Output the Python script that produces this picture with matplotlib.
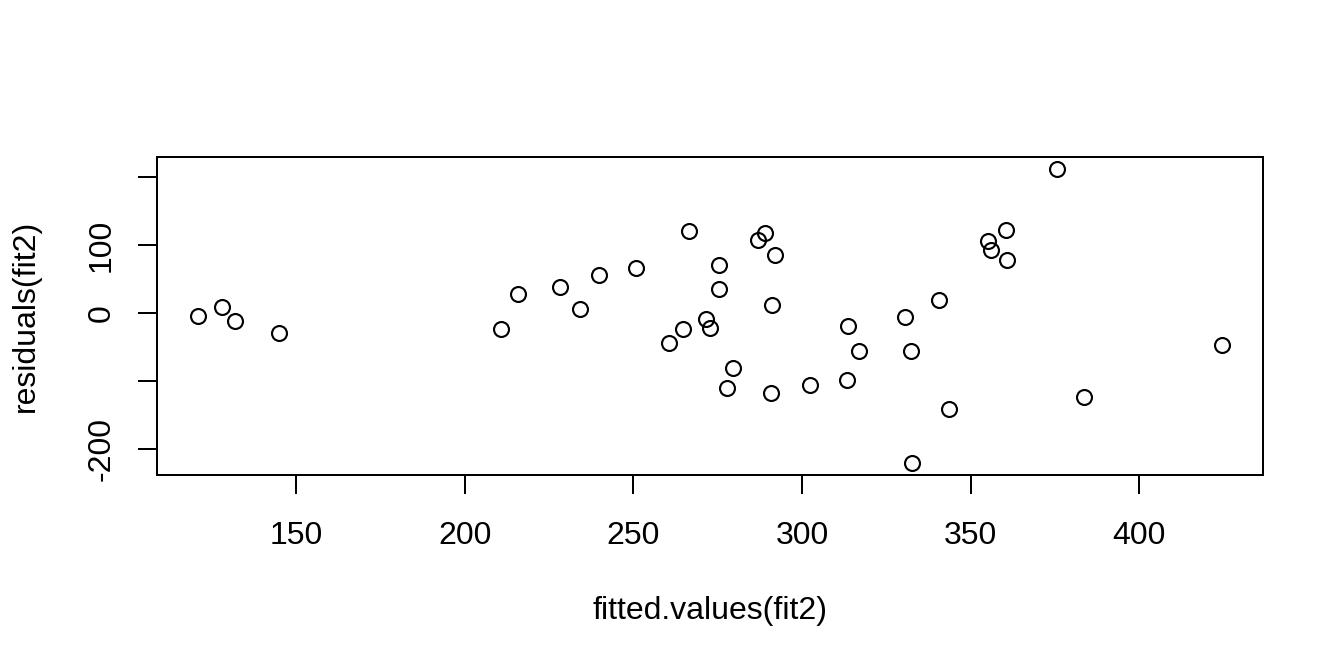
import matplotlib.pyplot as plt

plt.rcParams['font.family'] = ['Liberation Sans', 'DejaVu Sans']

# fitted values and residuals of fit2
fitted = [120.9, 128.0, 131.8, 144.9, 210.6, 215.8, 228.2, 234.1, 239.7, 250.7,
          260.5, 266.4, 264.7, 271.4, 272.6, 275.3, 275.3, 279.5, 277.7, 286.8,
          288.9, 291.9, 291.2, 290.9, 302.4, 313.3, 313.5, 316.8, 330.4, 332.4,
          332.6, 340.6, 343.7, 355.0, 355.9, 360.5, 360.7, 375.7, 383.6, 424.5]
resid = [-5.0, 8.2, -11.8, -29.4, -23.5, 28.4, 38.7, 4.9, 56.3, 66.6,
         -44.1, 120.0, -23.5, -8.8, -23.1, 71.0, 35.3, -81.9, -111.3, 107.8,
         117.6, 85.7, 12.2, -117.6, -106.9, -99.1, -18.7, -56.5, -5.9, -56.5,
         -221.6, 19.1, -141.2, 105.9, 92.1, 122.5, 77.9, 212.2, -124.6, -47.6]

x_ticks = [150, 200, 250, 300, 350, 400]
y_ticks = [-200, -100, 0, 100, 200]
y_tick_labels = ['-200', '', '0', '100', '']

fig = plt.figure(figsize=(7, 3.5), dpi=192)
ax = fig.add_axes([157 / 1344, 1 - 475 / 672, (1263 - 157) / 1344, (475 - 157) / 672])

ax.plot(fitted, resid, 'o', mfc='none', mec='black', ms=5.6, mew=0.8)
ax.margins(0.04)

ax.set_xticks(x_ticks)
ax.set_yticks(y_ticks)
ax.set_yticklabels(y_tick_labels)
ax.tick_params(direction='out', length=7.2, width=0.75, labelsize=12, pad=10)
ax.tick_params(axis='y', labelrotation=90, pad=8)
for lbl in ax.get_yticklabels():
    lbl.set_va('center')

for s in ax.spines.values():
    s.set_linewidth(0.75)

ax.set_xlabel('fitted.values(fit2)', fontsize=12, labelpad=17)
ax.set_ylabel('residuals(fit2)', fontsize=12, labelpad=17)

fig.savefig('out.png', dpi=192)
